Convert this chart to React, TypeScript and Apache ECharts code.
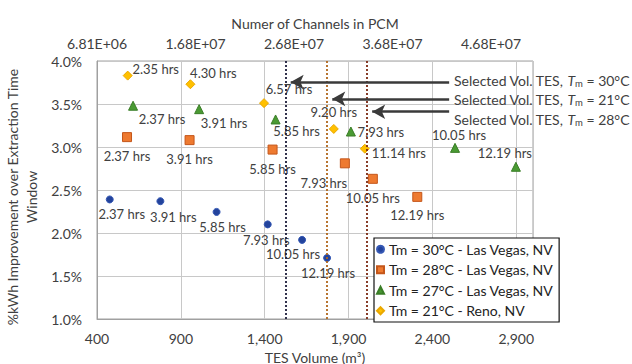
import React, { useEffect, useRef } from 'react';
import * as echarts from 'echarts';

// ---------- data ----------
const seriesNames = [
  'Tm = 30°C - Las Vegas, NV',
  'Tm = 28°C - Las Vegas, NV',
  'Tm = 27°C - Las Vegas, NV',
  'Tm = 21°C - Reno, NV',
];

const vol30 = [476, 778, 1113, 1418, 1623, 1772];
const imp30 = [2.39, 2.37, 2.245, 2.1, 1.92, 1.71];
const hrs30 = [2.37, 3.91, 5.85, 7.93, 10.05, 12.19];

const vol28 = [579, 952, 1447, 1878, 2045, 2310];
const imp28 = [3.115, 3.08, 2.97, 2.81, 2.63, 2.42];
const hrs28 = [2.37, 3.91, 5.85, 7.93, 10.05, 12.19];

const vol27 = [615, 1009, 1465, 1914, 2535, 2898];
const imp27 = [3.48, 3.44, 3.32, 3.18, 2.99, 2.77];
const hrs27 = [2.37, 3.91, 5.85, 7.93, 10.05, 12.19];

const vol21 = [583, 957, 1396, 1812, 1997];
const imp21 = [3.83, 3.73, 3.51, 3.21, 2.98];
const hrs21 = [2.35, 4.3, 6.57, 9.2, 11.14];

// selected volumes (30°C, 21°C, 28°C) and the arrows pointing at them
const selectedVol = [1525, 1773, 2011];
const selectedTemps = ['30°C', '21°C', '28°C'];
const arrowImp = [3.755, 3.56, 3.41];
const arrowFromVol = 2500;

// axes
const X_MIN = 400;
const X_MAX = 3000;
const X_INTERVAL = 500;
const Y_MIN = 1.0;
const Y_MAX = 4.0;
const Y_INTERVAL = 0.5;
const CHANNELS_PER_M3 = 17025;
const TOP_INTERVAL = 1e7;

// ---------- styling (not data) ----------
const FONT = 'Lato';
const TEXT = '#404040';
const labelOffsets30 = [[12, 15], [13, 16], [6, 15], [-1.5, 16], [-9, 14], [1, 15]];
const labelOffsets28 = [[0, 19], [0, 19], [0, 19], [-21, 20], [0, 19], [0, 18]];
const labelOffsets27 = [[29, 13], [25, 14], [21, 12], [30, 0], [4, -13], [-11, -14]];
const labelOffsets21 = [[28, -7], [23, -11], [25, -14], [0, -17], [34, 4]];
const dotColors = ['#1c1c3a', '#b0661c', '#7a2812'];
const textCenters = [80, 99.5, 119];

function sci(n: number) {
  const e = Math.floor(Math.log10(n));
  const m = n / Math.pow(10, e);
  return m.toFixed(2) + 'E+' + String(e).padStart(2, '0');
}

function mkSeries(
  name: string,
  vols: number[],
  imps: number[],
  hrs: number[],
  offsets: number[][],
  symbol: string,
  size: number,
  color: string,
  border: string
): any {
  return {
    type: 'scatter',
    name,
    symbol,
    symbolSize: size,
    itemStyle: { color, borderColor: border, borderWidth: 1, opacity: 1 },
    emphasis: { disabled: true },
    data: vols.map((v, i) => ({
      value: [v - X_MIN, imps[i], hrs[i]],
      label: { offset: offsets[i] },
    })),
    label: {
      show: true,
      position: 'inside',
      formatter: (p: any) => p.value[2].toFixed(2) + ' hrs',
      fontFamily: FONT,
      fontSize: 13,
      color: TEXT,
      textBorderWidth: 0,
    },
    z: 3,
  };
}

export default function App() {
  const ref = useRef<HTMLDivElement>(null);

  useEffect(() => {
    const chart = echarts.init(ref.current!, null, { renderer: 'svg' });

    const s30 = mkSeries(seriesNames[0], vol30, imp30, hrs30, labelOffsets30, 'circle', 7, '#23439c', '#3558b4');
    const s28 = mkSeries(seriesNames[1], vol28, imp28, hrs28, labelOffsets28, 'rect', 9, '#ee7a30', '#c4561a');
    const s27 = mkSeries(seriesNames[2], vol27, imp27, hrs27, labelOffsets27, 'triangle', 9, '#4a9a33', '#3a7d27');
    const s21 = mkSeries(seriesNames[3], vol21, imp21, hrs21, labelOffsets21, 'diamond', 9, '#ffc000', '#eaa800');

    s30.markLine = {
      silent: true,
      animation: false,
      symbol: ['none', 'none'],
      label: { show: false },
      emphasis: { disabled: true },
      data: [
        ...selectedVol.map((v, i) => ({
          xAxis: v - X_MIN,
          lineStyle: { color: dotColors[i], type: [2, 2], width: 1.8 },
        })),
        ...selectedVol.map((v, i) => [
          {
            coord: [arrowFromVol - X_MIN, arrowImp[i]],
            symbol: 'none',
            lineStyle: { color: '#3a3a3a', type: 'solid', width: 2.5 },
          },
          {
            coord: [v - X_MIN + 30, arrowImp[i]],
            symbol: 'arrow',
            symbolSize: [11, 13],
          },
        ]),
      ],
    };

    const option: any = {
      animation: false,
      backgroundColor: '#fff',
      textStyle: { fontFamily: FONT },
      grid: {
        left: 97,
        right: 99,
        top: 61,
        bottom: 45,
        show: true,
        borderColor: '#a0a0a0',
        borderWidth: 1,
        containLabel: false,
        outerBoundsMode: 'none',
      },
      legend: {
        orient: 'vertical',
        left: 374,
        top: 238,
        padding: [3, 6, 3, 2],
        itemGap: 4,
        itemWidth: 7,
        itemHeight: 7,
        backgroundColor: '#fff',
        borderColor: '#111',
        borderWidth: 1.2,
        borderRadius: 0,
        selectedMode: false,
        textStyle: { fontFamily: FONT, fontSize: 14, color: '#222', lineHeight: 16.5 },
        data: seriesNames,
      },
      xAxis: [
        {
          type: 'value',
          position: 'bottom',
          min: 0,
          max: X_MAX - X_MIN,
          interval: X_INTERVAL,
          axisLine: { show: true, lineStyle: { color: '#a0a0a0', width: 1 } },
          axisTick: { show: false },
          axisLabel: {
            formatter: (v: number) => (v + X_MIN).toLocaleString('en-US'),
            fontFamily: FONT,
            fontSize: 14,
            color: TEXT,
            margin: 12,
            showMaxLabel: false,
          },
          splitLine: { show: true, lineStyle: { color: '#c8c8c8', width: 1 } },
          name: 'TES Volume (m³)',
          nameLocation: 'middle',
          nameGap: 31,
          nameTextStyle: { fontFamily: FONT, fontSize: 14, color: TEXT },
        },
        {
          type: 'value',
          position: 'top',
          min: 0,
          max: (X_MAX - X_MIN) * CHANNELS_PER_M3,
          interval: TOP_INTERVAL,
          axisLine: { show: false },
          axisTick: { show: false },
          splitLine: { show: false },
          axisLabel: {
            formatter: (v: number) => sci(v + X_MIN * CHANNELS_PER_M3),
            fontFamily: FONT,
            fontSize: 14,
            color: TEXT,
            margin: 11,
            showMaxLabel: false,
          },
          name: 'Numer of Channels in PCM',
          nameLocation: 'middle',
          nameGap: 31,
          nameTextStyle: { fontFamily: FONT, fontSize: 14, color: TEXT },
        },
      ],
      yAxis: {
        type: 'value',
        min: Y_MIN,
        max: Y_MAX,
        interval: Y_INTERVAL,
        axisLine: { show: true, lineStyle: { color: '#a0a0a0', width: 1 } },
        axisTick: { show: false },
        axisLabel: {
          formatter: (v: number) => v.toFixed(1) + '%',
          fontFamily: FONT,
          fontSize: 14,
          color: TEXT,
          margin: 15,
        },
        splitLine: { show: true, lineStyle: { color: '#c8c8c8', width: 1 } },
        name: '%kWh Improvement over Extraction Time\nWindow',
        nameLocation: 'middle',
        nameGap: 50,
        nameTextStyle: {
          fontFamily: FONT,
          fontSize: 14,
          color: TEXT,
          lineHeight: 18.5,
          align: 'center',
          padding: [0, 14, 0, 0],
        },
      },
      graphic: selectedTemps.map((t, i) => ({
        type: 'text',
        x: 454,
        y: textCenters[i],
        z: 10,
        style: {
          text: `Selected Vol. TES, {i|T}{s|m} = ${t}`,
          fontFamily: FONT,
          fontSize: 14,
          fill: TEXT,
          verticalAlign: 'middle',
          rich: {
            i: { fontStyle: 'italic', fontFamily: FONT, fontSize: 14, fill: TEXT },
            s: { fontFamily: FONT, fontSize: 9.5, fill: TEXT, verticalAlign: 'bottom', padding: [6, 0, 0, 0] },
          },
        },
      })),
      series: [s30, s28, s27, s21],
    };

    chart.setOption(option);
    return () => chart.dispose();
  }, []);

  return (
    <div
      ref={ref}
      style={{ position: 'fixed', left: 0, top: 0, width: 632, height: 364, background: '#fff' }}
    />
  );
}
